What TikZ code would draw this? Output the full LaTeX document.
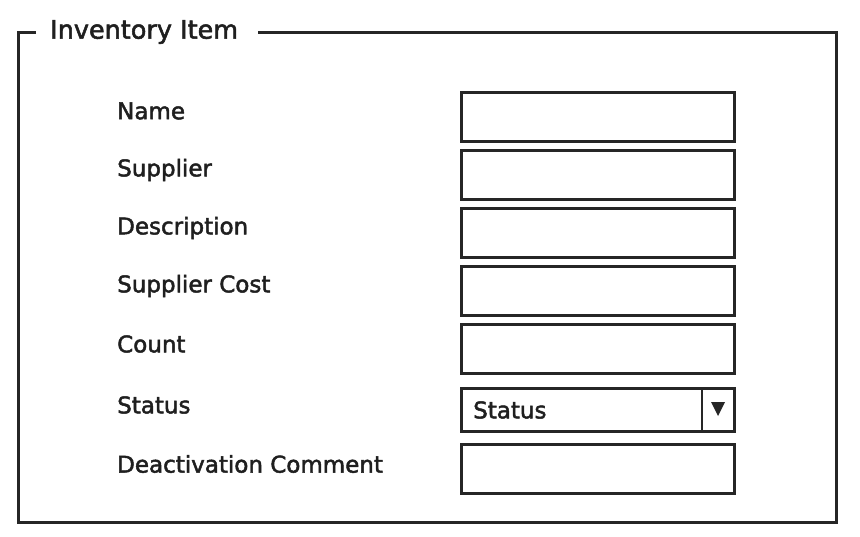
\documentclass[tikz,border=0pt]{standalone}
\usepackage{fontspec}
\setmainfont{DejaVu Sans}
\newfontfamily\hand{DejaVu Sans}[FakeBold=2]
\begin{document}
\begin{tikzpicture}[x=1pt,y=-1pt,
  lbl/.style={anchor=west,inner sep=0pt,font=\hand\fontsize{23}{26}\selectfont,text=black!88},
  field/.style={draw=black!85,line width=2.8pt,minimum width=273pt,minimum height=49pt,anchor=north west,inner sep=0pt},
  framebox/.style={draw=black!85,line width=3pt}]
\useasboundingbox (0,0) rectangle (860,536);
\fill[white] (0,0) rectangle (860,536);
% frame
\node[lbl,font=\hand\fontsize{25.5}{28}\selectfont] (title) at (50,32) {Inventory Item};
\coordinate (tl) at (18,32);
\coordinate (tr) at (836,32);
\coordinate (br) at (836,522);
\coordinate (bl) at (18,522);
\coordinate (t1) at (36,32);
\coordinate (t2) at (258,32);
\draw[framebox] (t1) -- (tl) -- (bl) -- (br) -- (tr) -- (t2);
% labels
\node[lbl] (lname) at (117,111) {Name};
\node[lbl] (lsup) at (117,170) {Supplier};
\node[lbl] (ldesc) at (117,228) {Description};
\node[lbl] (lcost) at (117,286) {Supplier Cost};
\node[lbl] (lcount) at (117,344) {Count};
\node[lbl] (lstat) at (117,405) {Status};
\node[lbl] (ldeact) at (117,464) {Deactivation Comment};
% fields
\node[field] (fname) at (460,91) {};
\node[field] (fsup) at (460,149) {};
\node[field] (fdesc) at (460,207) {};
\node[field] (fcost) at (460,265) {};
\node[field] (fcount) at (460,323) {};
\node[field,minimum height=43pt] (fstat) at (460,387) {};
\node[field] (fdeact) at (460,443) {};
% dropdown
\node[lbl] (stattext) at (473,410) {Status};
\coordinate (d1) at (702,387);
\coordinate (d2) at (702,430);
\draw[draw=black!85,line width=2.4pt] (d1) -- (d2);
\coordinate (a1) at (711,402);
\coordinate (a2) at (725,402);
\coordinate (a3) at (718,416);
\fill[black!85] (a1) -- (a2) -- (a3) -- cycle;
\end{tikzpicture}
\end{document}
